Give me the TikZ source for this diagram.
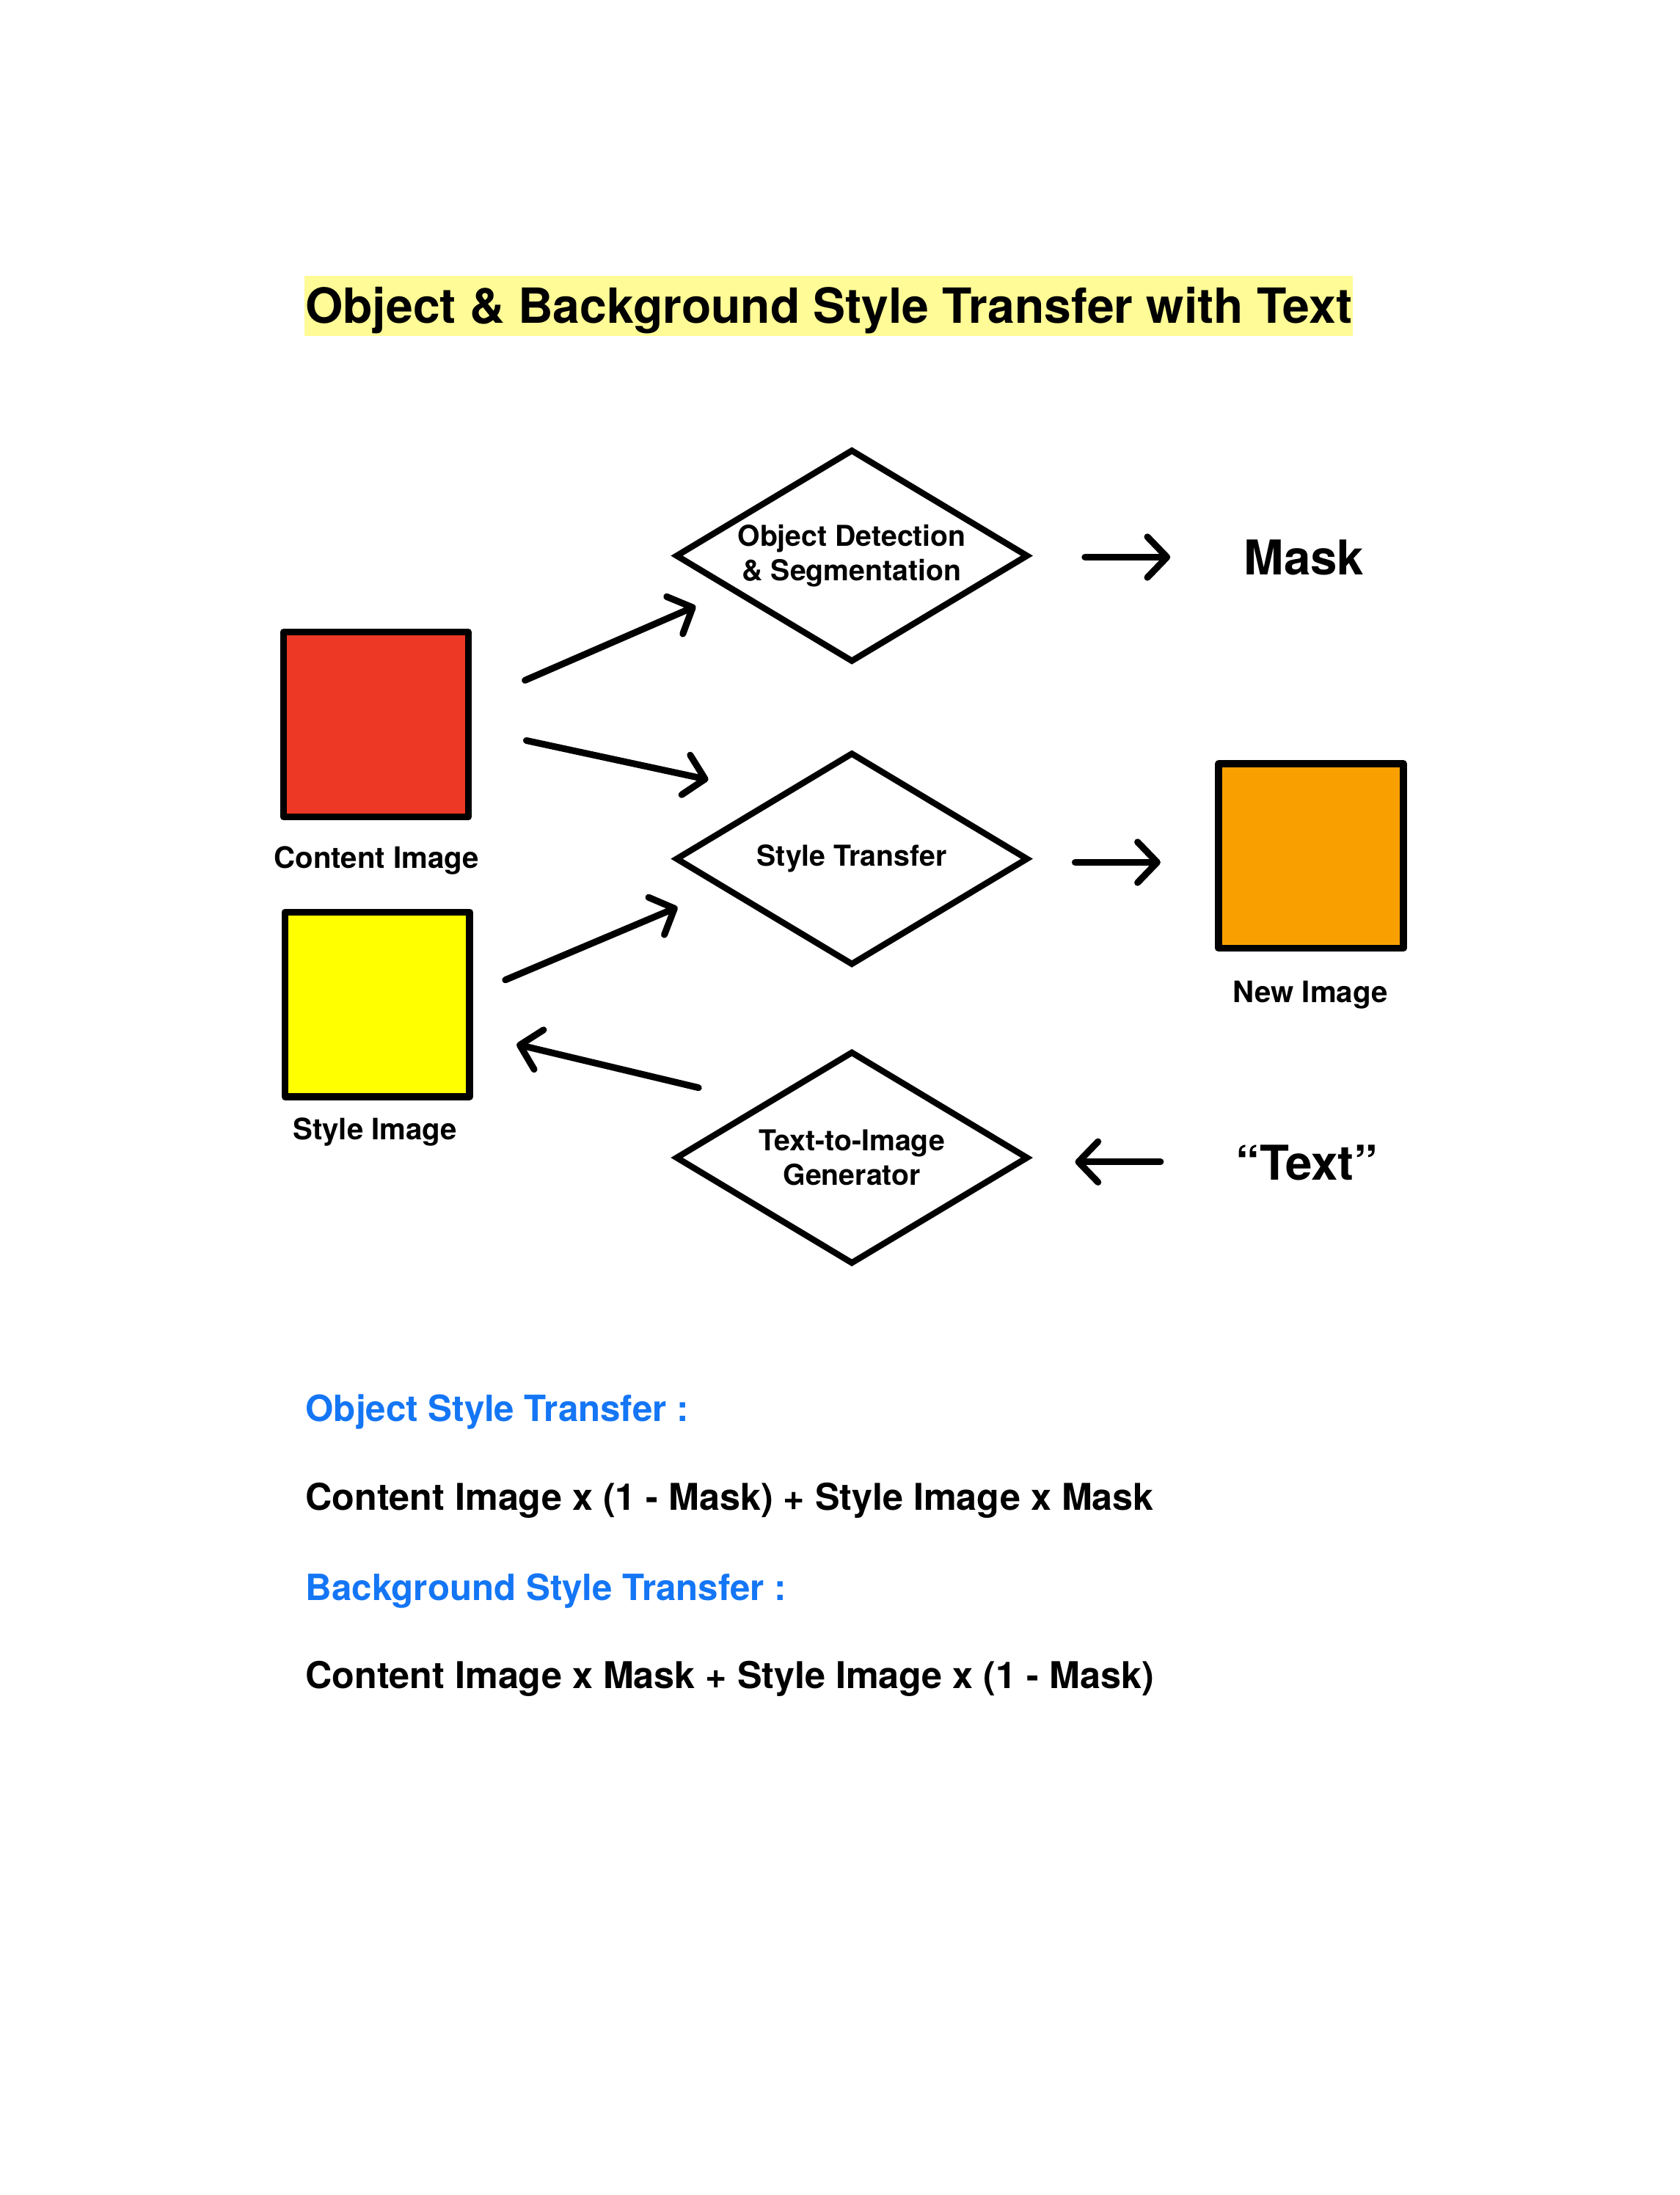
\documentclass[tikz,border=0pt]{standalone}
\usepackage{fontspec}
\setmainfont{TeX Gyre Heros}
\usetikzlibrary{arrows.meta, shapes.geometric}

\definecolor{contentred}{RGB}{236,56,36}
\definecolor{styleyellow}{RGB}{255,255,0}
\definecolor{neworange}{RGB}{249,160,0}
\definecolor{titlehl}{RGB}{255,251,150}
\definecolor{formblue}{RGB}{20,118,245}

\begin{document}
\begin{tikzpicture}[x=0.02cm, y=-0.02cm,
  titlebox/.style={fill=titlehl, minimum width=14.98cm, minimum height=0.86cm, inner sep=0pt,
    text height=16.5pt, text depth=2.7pt, font=\fontsize{19.7}{23}\selectfont\bfseries},
  imgbox/.style={draw, line width=2.8pt, line join=round, minimum size=2.64cm, inner sep=0pt},
  stepdia/.style={diamond, aspect=1.64, draw, line width=2.5pt, minimum width=5.04cm,
    minimum height=3.04cm, inner sep=0pt, align=center, font=\fontsize{11.7}{14}\selectfont\bfseries},
  lbl/.style={anchor=base, inner sep=0pt, font=\fontsize{12}{14}\selectfont\bfseries},
  big/.style={anchor=base, inner sep=0pt, font=\fontsize{19.5}{23}\selectfont\bfseries},
  formhead/.style={anchor=base west, inner sep=0pt, text=formblue, font=\fontsize{14.7}{18}\selectfont\bfseries},
  formula/.style={anchor=base west, inner sep=0pt, font=\fontsize{15}{18}\selectfont\bfseries},
  arr/.style={line width=2.7pt, line cap=round, -{Straight Barb[length=2.8mm, width=5.8mm, round]}}
]
  \useasboundingbox (0,0) rectangle (1200,1568);

  % Title
  \node[titlebox] (title) at (592,218.5) {Object \& Background Style Transfer with Text};

  % Images
  \node[imgbox, fill=contentred] (content) at (268.5,517.5) {};
  \node[imgbox, fill=styleyellow] (style) at (269.5,717.5) {};
  \node[imgbox, fill=neworange] (newimg) at (936.5,611.5) {};
  \node[lbl] (contentlbl) at (269,620) {Content Image};
  \node[lbl] (stylelbl) at (268,814) {Style Image};
  \node[lbl] (newlbl) at (936,716) {New Image};

  % Processing steps
  \node[stepdia] (detect) at (608.5,397) {Object Detection\\\& Segmentation};
  \node[stepdia] (transfer) at (608.5,613.5) {Style Transfer};
  \node[stepdia] (generator) at (608.5,827) {Text-to-Image\\Generator};

  % Outputs / inputs on the right
  \node[big] (mask) at (931.5,410.5) {Mask};
  \node[big] (prompt) at (933.5,843) {“Text”};

  % Arrow ends
  \coordinate (detect-out) at (775,398);   \coordinate (mask-in) at (836,398);
  \coordinate (transfer-out) at (768,616); \coordinate (newimg-in) at (829,616);
  \coordinate (prompt-out) at (829,830);   \coordinate (generator-in) at (768,830);
  \coordinate (content-out1) at (375,486); \coordinate (detect-in) at (497,433);
  \coordinate (content-out2) at (376,529); \coordinate (transfer-in1) at (506,557);
  \coordinate (style-out) at (361,700);    \coordinate (transfer-in2) at (484,648);
  \coordinate (generator-out) at (499,777); \coordinate (style-in) at (369,746);

  \draw[arr] (detect-out) -- (mask-in);
  \draw[arr] (transfer-out) -- (newimg-in);
  \draw[arr] (prompt-out) -- (generator-in);
  \draw[arr] (content-out1) -- (detect-in);
  \draw[arr] (content-out2) -- (transfer-in1);
  \draw[arr] (style-out) -- (transfer-in2);
  \draw[arr] (generator-out) -- (style-in);

  % Formulas
  \node[formhead] (objhead) at (218,1015.5) {Object Style Transfer :};
  \node[formula] (objeq) at (218,1079) {Content Image x (1 - Mask) + Style Image x Mask};
  \node[formhead] (bghead) at (218,1143) {Background Style Transfer :};
  \node[formula] (bgeq) at (218,1206) {Content Image x Mask + Style Image x (1 - Mask)};

\end{tikzpicture}
\end{document}
